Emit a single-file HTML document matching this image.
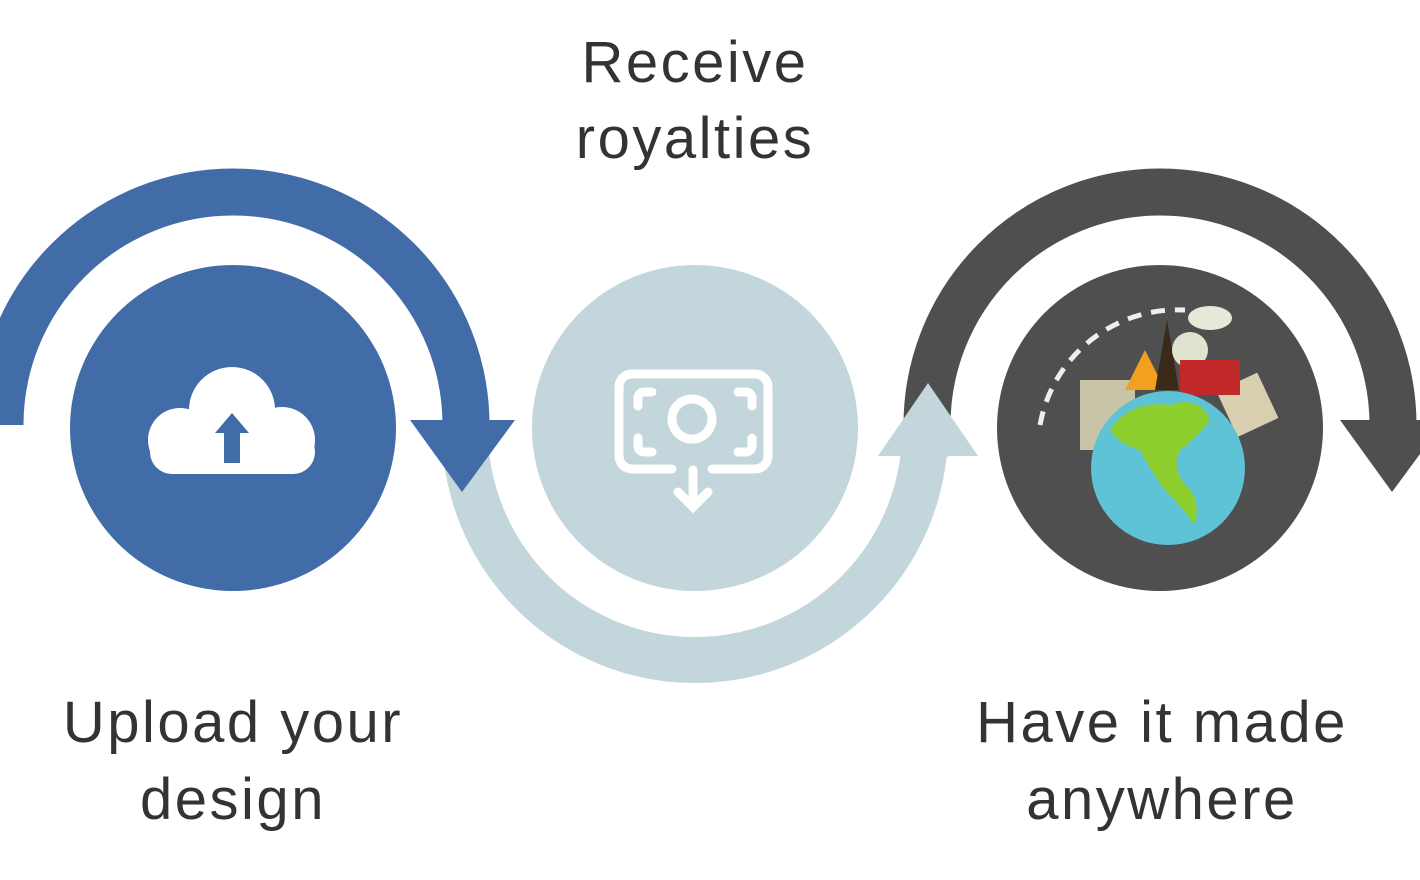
<!DOCTYPE html>
<html><head><style>
html,body{margin:0;padding:0;background:#fff;width:1420px;height:880px;overflow:hidden}
svg{display:block}
text{font-family:"Liberation Sans",sans-serif;font-size:58px;fill:#333;letter-spacing:2.5px}
</style></head><body>
<svg width="1420" height="880" viewBox="0 0 1420 880">
<path d="M927 425 A233 233 0 0 1 1393 425" fill="none" stroke="#4f4f4f" stroke-width="47"/>
<polygon points="1340,420 1445,420 1392,492" fill="#4f4f4f"/>
<path d="M465 430 A230 230 0 0 0 925 430 L925 457" fill="none" stroke="#c2d6db" stroke-width="46"/>
<polygon points="878,456 978,456 928,383" fill="#c2d6db"/>
<path d="M0 425 A233 233 0 0 1 466 425" fill="none" stroke="#416ca7" stroke-width="47"/>
<polygon points="410,420 515,420 462,492" fill="#416ca7"/>
<circle cx="233" cy="428" r="163" fill="#416ca7"/>
<circle cx="695" cy="428" r="163" fill="#c2d6db"/>
<circle cx="1160" cy="428" r="163" fill="#4f4f4f"/>
<g fill="#fff">
<circle cx="232" cy="410" r="43"/>
<circle cx="180" cy="440" r="32"/>
<circle cx="282" cy="440" r="33"/>
<rect x="150" y="430" width="165" height="44" rx="22"/>
</g>
<polygon points="232,413 215,433 224,433 224,463 240,463 240,433 249,433" fill="#416ca7"/>
<g fill="none" stroke="#fff" stroke-width="9" stroke-linecap="round">
<path d="M672 469 H632 a13 13 0 0 1 -13 -13 V387 a13 13 0 0 1 13 -13 H755 a13 13 0 0 1 13 13 V456 a13 13 0 0 1 -13 13 H712"/>
<circle cx="692" cy="419" r="20"/>
<path d="M652 392 h-8 a6 6 0 0 0 -6 6 v8 M738 392 h8 a6 6 0 0 1 6 6 v8 M652 452 h-8 a6 6 0 0 1 -6 -6 v-8 M738 452 h8 a6 6 0 0 0 6 -6 v-8"/>
<path d="M693 470 V505 M678 492 L693 507 L708 492"/>
</g>
<path d="M1040 425 A140 140 0 0 1 1185 310" fill="none" stroke="#eee" stroke-width="5" stroke-dasharray="14 10"/>
<ellipse cx="1210" cy="318" rx="22" ry="12" fill="#e8e8d8"/>
<rect x="1080" y="380" width="55" height="70" fill="#c9c3a8"/>
<rect x="1225" y="380" width="45" height="50" fill="#d8cfb0" transform="rotate(-25 1247 405)"/>
<polygon points="1125,390 1145,350 1165,390" fill="#f3a020"/>
<polygon points="1155,390 1167,320 1179,390" fill="#3a2a1a"/>
<circle cx="1190" cy="350" r="18" fill="#dfe4d0"/>
<rect x="1180" y="360" width="60" height="35" fill="#c0282a"/>
<circle cx="1168" cy="468" r="77" fill="#5ec3d6"/>
<path d="M1110 430 Q1130 400 1170 405 Q1200 395 1210 420 Q1195 440 1180 450 Q1170 470 1190 490 Q1200 500 1195 525 Q1180 505 1165 490 Q1150 470 1140 450 Q1120 445 1110 430Z" fill="#8ccf2e"/>
<text x="695" y="82" text-anchor="middle">Receive</text>
<text x="695" y="158" text-anchor="middle">royalties</text>
<text x="233" y="742" text-anchor="middle">Upload your</text>
<text x="233" y="819" text-anchor="middle">design</text>
<text x="1162" y="742" text-anchor="middle">Have it made</text>
<text x="1162" y="819" text-anchor="middle">anywhere</text>
</svg>
</body></html>
